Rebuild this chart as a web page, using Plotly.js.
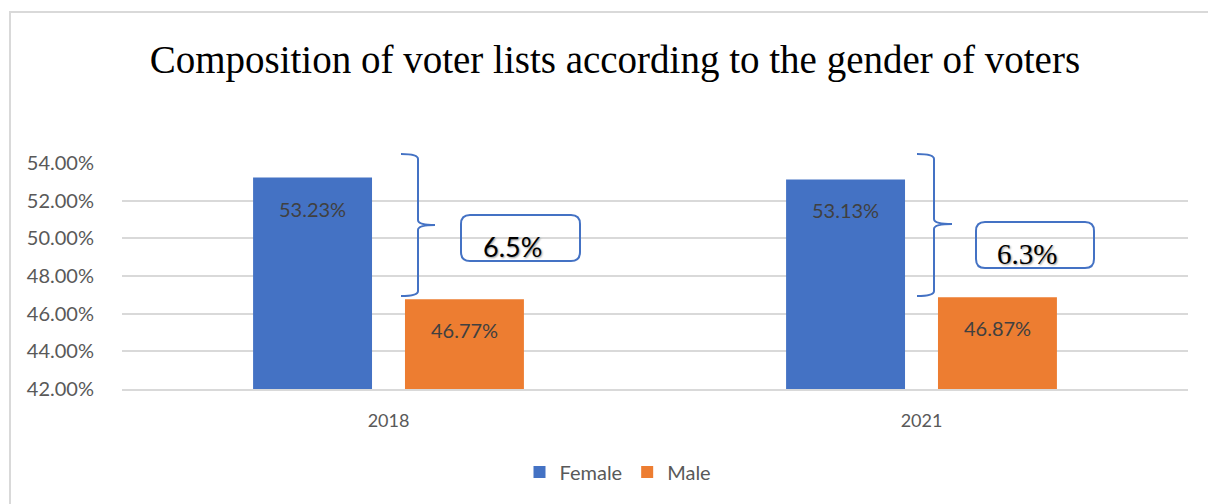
<!DOCTYPE html>
<html>
<head>
<meta charset="utf-8">
<script src="https://cdn.plot.ly/plotly-3.0.1.min.js"></script>
<style>html,body{margin:0;padding:0;background:#fff;}#chart{width:1208px;height:504px;}</style>
</head>
<body>
<div id="chart"></div>
<script>
// Data
const years = ['2018', '2021'];
const female = [0.5323, 0.5313];
const male = [0.4677, 0.4687];
const gapLabels = ['6.5%', '6.3%'];
const seriesNames = ['Female', 'Male'];

const W = 1208, H = 504;
const L = 122, R = 1188, T = 163, B = 389;
const px = x => (x - L) / (R - L);
const py = y => (B - y) / (B - T);

function brace(xl, xv, xt, yt, ym, yb) {
  const c = 5;
  return 'M' + px(xl) + ',' + py(yt) +
    ' Q' + px(xv) + ',' + py(yt) + ' ' + px(xv) + ',' + py(yt + c) +
    ' L' + px(xv) + ',' + py(ym - c) +
    ' Q' + px(xv) + ',' + py(ym) + ' ' + px(xt) + ',' + py(ym) +
    ' Q' + px(xv) + ',' + py(ym) + ' ' + px(xv) + ',' + py(ym + c) +
    ' L' + px(xv) + ',' + py(yb - c) +
    ' Q' + px(xv) + ',' + py(yb) + ' ' + px(xl) + ',' + py(yb);
}
function rrect(x0, y0, x1, y1, r) {
  return 'M' + px(x0 + r) + ',' + py(y0) +
    ' L' + px(x1 - r) + ',' + py(y0) +
    ' Q' + px(x1) + ',' + py(y0) + ' ' + px(x1) + ',' + py(y0 + r) +
    ' L' + px(x1) + ',' + py(y1 - r) +
    ' Q' + px(x1) + ',' + py(y1) + ' ' + px(x1 - r) + ',' + py(y1) +
    ' L' + px(x0 + r) + ',' + py(y1) +
    ' Q' + px(x0) + ',' + py(y1) + ' ' + px(x0) + ',' + py(y1 - r) +
    ' L' + px(x0) + ',' + py(y0 + r) +
    ' Q' + px(x0) + ',' + py(y0) + ' ' + px(x0 + r) + ',' + py(y0) + ' Z';
}

const blue = '#4472C4', orange = '#ED7D31';
const sans = 'Lato, "Open Sans", sans-serif';
const idx = years.map((_, i) => i);
const BARGAP = 0.43, GROUPGAP = 0.217;

const traces = [
  {type: 'bar', name: seriesNames[0], x: idx, y: female, marker: {color: blue}, hoverinfo: 'none'},
  {type: 'bar', name: seriesNames[1], x: idx, y: male, marker: {color: orange}, hoverinfo: 'none'}
];

const annotations = [];
const slot = (R - L) / 2 * (1 - BARGAP) / 2;
[female, male].forEach((vals, s) => {
  vals.forEach((v, i) => {
    annotations.push({
      x: idx[i], y: v, xref: 'x', yref: 'y', showarrow: false,
      text: (v * 100).toFixed(2) + '%', xshift: (s === 0 ? -1 : 1) * slot / 2, yshift: -31,
      yanchor: 'middle', font: {family: sans, size: 20, color: '#404040'}
    });
  });
});
annotations.push({
  x: px(512), y: py(246), xref: 'paper', yref: 'paper', showarrow: false,
  text: gapLabels[0], xanchor: 'center', yanchor: 'middle',
  font: {family: sans, size: 27, color: '#000', shadow: '1px 1px 2px #999'}
});
annotations.push({
  x: px(1027), y: py(254), xref: 'paper', yref: 'paper', showarrow: false,
  text: gapLabels[1], xanchor: 'center', yanchor: 'middle',
  font: {family: '"Liberation Serif", serif', size: 29, color: '#000', shadow: '1px 1px 2px #999'}
});

const shapes = [
  {type: 'rect', xref: 'paper', yref: 'paper', x0: px(10), y0: py(12), x1: px(1230), y1: py(530),
   line: {color: '#d9d9d9', width: 2}, layer: 'below'},
  {type: 'path', xref: 'paper', yref: 'paper', path: brace(401, 418, 435, 154, 225, 296), line: {color: blue, width: 2}},
  {type: 'path', xref: 'paper', yref: 'paper', path: brace(917, 934, 952, 154, 224, 296), line: {color: blue, width: 2}},
  {type: 'path', xref: 'paper', yref: 'paper', path: rrect(461, 215, 580, 261, 9), line: {color: blue, width: 2}, fillcolor: 'rgba(255,255,255,0)'},
  {type: 'path', xref: 'paper', yref: 'paper', path: rrect(976, 222, 1094, 268, 9), line: {color: blue, width: 2}, fillcolor: 'rgba(255,255,255,0)'}
];

const layout = {
  width: W, height: H,
  margin: {l: L, r: W - R, t: T, b: H - B, pad: 0},
  paper_bgcolor: '#fff', plot_bgcolor: '#fff',
  title: {text: 'Composition of voter lists according to the gender of voters',
          font: {family: '"Liberation Serif", serif', size: 39, color: '#000'},
          x: 0.509, xanchor: 'center', y: 1 - 59 / H, yanchor: 'middle', xref: 'container', yref: 'container'},
  barmode: 'group', bargap: BARGAP, bargroupgap: GROUPGAP,
  xaxis: {type: 'linear', range: [-0.5, 1.5], autorange: false, tickvals: idx, ticktext: years,
          showgrid: false, zeroline: false, showline: true, linecolor: '#d9d9d9', linewidth: 2,
          ticks: 'outside', ticklen: 14, tickcolor: 'rgba(0,0,0,0)',
          tickfont: {family: sans, size: 18, color: '#595959'}, fixedrange: true},
  yaxis: {range: [0.42, 0.54], autorange: false, dtick: 0.02, tick0: 0.42, tickformat: '.2%', showgrid: true, gridcolor: '#d9d9d9', gridwidth: 2,
          zeroline: false, showline: false, ticks: 'outside', ticklen: 23, tickcolor: 'rgba(0,0,0,0)',
          tickfont: {family: sans, size: 20, color: '#595959'}, fixedrange: true},
  showlegend: true,
  legend: {orientation: 'h', x: px(618), xanchor: 'center', y: py(472), yanchor: 'middle', xref: 'paper', yref: 'paper',
           font: {family: sans, size: 20, color: '#595959'}, itemwidth: 30},
  annotations: annotations, shapes: shapes
};

Plotly.newPlot('chart', traces, layout, {displayModeBar: false, staticPlot: true});
</script>
</body>
</html>
